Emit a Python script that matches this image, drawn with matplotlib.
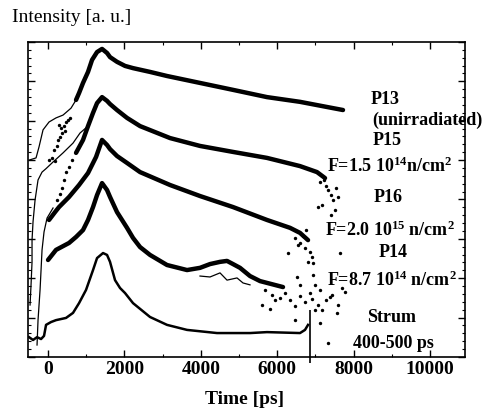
import numpy as np
import matplotlib
matplotlib.use('Agg')
import matplotlib.pyplot as plt
from matplotlib.ticker import MultipleLocator

plt.rcParams['font.family'] = ['Liberation Serif', 'DejaVu Serif']
plt.rcParams['mathtext.fontset'] = 'custom'
plt.rcParams['mathtext.rm'] = 'Liberation Serif:bold'
plt.rcParams['mathtext.it'] = 'Liberation Serif:bold'
plt.rcParams['mathtext.bf'] = 'Liberation Serif:bold'

# --- P13 (unirradiated) ---
p13_t = [733, 812, 916, 1047, 1152, 1283, 1414, 1545, 1623, 1806, 2016, 2225,
         2670, 3115, 3979, 4843, 5733, 6597, 7461, 7723]
p13_i = [8.16, 8.38, 8.70, 9.05, 9.43, 9.68, 9.78, 9.65, 9.52, 9.37, 9.24, 9.17,
         9.05, 8.92, 8.70, 8.48, 8.25, 8.10, 7.90, 7.84]
p13_pre_t = [26, 105, 183, 157, 236, 262, 314, 367, 340, 419, 471, 524, 576, 445, 288]
p13_pre_i = [6.25, 6.32, 6.22, 6.57, 6.70, 6.89, 6.98, 7.11, 7.27, 7.33, 7.46, 7.52,
             7.59, 7.17, 7.37]
p13_line_t = [-497, -314, -236, -131, 26, 209, 393, 602, 733]
p13_line_i = [6.25, 6.32, 6.67, 7.21, 7.46, 7.59, 7.68, 7.90, 8.16]

# --- P15 ---
p15_t = [733, 916, 1047, 1178, 1283, 1414, 1545, 1623, 1806, 2068, 2409, 3194,
         3979, 4843, 5733, 6597, 7042, 7252]
p15_i = [6.48, 6.89, 7.33, 7.75, 8.06, 8.25, 8.13, 8.03, 7.84, 7.59, 7.33, 6.95,
         6.70, 6.51, 6.32, 6.06, 5.87, 5.68]
p15_pts_t = [236, 314, 367, 419, 471, 550, 628, 7121, 7278, 7330, 7409, 7461, 7173,
             7540, 7514, 7409, 7069, 7592, 7226]
p15_pts_i = [4.98, 5.17, 5.37, 5.62, 5.87, 6.03, 6.25, 5.56, 5.43, 5.30, 5.14, 4.98,
             4.83, 5.37, 4.67, 4.51, 4.76, 5.08, 5.62]
p15_line_t = [-471, -445, -419, -419, -393, -340, -262, -157, -52, 131, 393, 654, 838, 1047]
p15_line_i = [1.65, 2.29, 3.02, 3.71, 4.29, 4.98, 5.62, 5.87, 5.98, 6.19, 6.48, 6.79, 7.11, 7.33]

# --- P16 ---
p16_t = [26, 183, 288, 550, 812, 1047, 1257, 1414, 1545, 1623, 1806, 2068, 2409,
         3194, 3979, 4843, 5733, 6336, 6597, 6807]
p16_i = [4.35, 4.60, 4.76, 5.08, 5.46, 5.84, 6.35, 6.89, 6.73, 6.60, 6.38, 6.16, 5.87,
         5.46, 5.11, 4.76, 4.35, 4.10, 3.94, 3.71]
p16_pts_t = [6466, 6597, 6728, 6859, 6912, 6676, 6545, 6807, 6938, 7645, 6283, 6754]
p16_pts_i = [3.78, 3.62, 3.46, 3.33, 3.17, 3.84, 3.56, 3.02, 2.98, 3.30, 3.30, 4.03]
p16_line_t = [-288, -262, -209, -183, -157, -105, -26, 131]
p16_line_i = [0.38, 1.17, 2.13, 2.76, 3.40, 3.97, 4.41, 4.73]

# --- P14 ---
p14_t = [0, 209, 550, 733, 916, 1047, 1178, 1283, 1414, 1545, 1623, 1806, 2068, 2225,
         2409, 2670, 3115, 3639, 3979, 4241, 4503, 4686, 4843, 5027, 5288, 5550, 6152]
p14_i = [3.08, 3.40, 3.62, 3.81, 4.03, 4.35, 4.76, 5.14, 5.52, 5.30, 5.08, 4.60, 4.10, 3.78,
         3.49, 3.24, 2.92, 2.76, 2.83, 2.95, 3.02, 3.05, 2.95, 2.83, 2.57, 2.41, 2.22]
p14_pts_t = [5681, 5864, 6074, 6336, 6466, 6597, 6728, 6912, 7069, 7173, 7278, 7435, 7592,
             7697, 7566, 7775, 6990, 6597, 6519, 6938, 7383, 6859, 7121, 6205, 5943, 5603, 5812]
p14_pts_i = [2.13, 1.97, 1.87, 1.81, 1.62, 1.94, 1.75, 1.84, 1.65, 1.49, 1.81, 1.97, 1.65,
             2.19, 1.40, 2.06, 2.29, 2.29, 2.54, 2.60, 1.90, 2.03, 2.13, 2.03, 1.81, 1.65, 1.52]
p14_line_t = [3979, 4241, 4503, 4686, 4948, 5105, 5288]
p14_line_i = [2.57, 2.54, 2.67, 2.44, 2.51, 2.35, 2.29]

# --- Strum 400-500 ps ---
strum_t = [-497, -393, -288, -183, -105, -52, 79, 209, 471, 654, 812, 995, 1178, 1283,
           1440, 1545, 1623, 1754, 1885, 2016, 2225, 2670, 3115, 3639, 4424, 5288, 5733,
           6597, 6728, 6807]
strum_i = [0.63, 0.54, 0.63, 0.57, 0.67, 1.02, 1.11, 1.17, 1.24, 1.40, 1.71, 2.13, 2.76, 3.14,
           3.30, 3.24, 3.02, 2.44, 2.19, 2.03, 1.71, 1.27, 1.02, 0.86, 0.76, 0.76, 0.79,
           0.76, 0.86, 1.02]
strum_pts_t = [6466, 7121, 7330, 6990]
strum_pts_i = [1.17, 1.08, 0.44, 1.49]
cut_t = 6859
cut_top = 1.49

fig = plt.figure(figsize=(4.96, 4.12), dpi=100)
ax = fig.add_axes([0.0565, 0.1335, 0.881, 0.7646])

band = dict(color='black', lw=3.2, solid_capstyle='round', solid_joinstyle='round')
thin = dict(color='black', lw=0.9)
dots = dict(color='black', s=6, marker='o', linewidths=0)

ax.plot(p13_t, p13_i, **band)
ax.scatter(p13_pre_t, p13_pre_i, **dots)
ax.plot(p13_line_t, p13_line_i, **thin)

ax.plot(p15_t, p15_i, **band)
ax.scatter(p15_pts_t, p15_pts_i, **dots)
ax.plot(p15_line_t, p15_line_i, **thin)

ax.plot(p16_t, p16_i, **band)
ax.scatter(p16_pts_t, p16_pts_i, **dots)
ax.plot(p16_line_t, p16_line_i, **thin)

ax.plot(p14_t, p14_i, **band)
ax.scatter(p14_pts_t, p14_pts_i, **dots)
ax.plot(p14_line_t, p14_line_i, **thin)

ax.plot(strum_t, strum_i, color='black', lw=1.8)
ax.scatter(strum_pts_t, strum_pts_i, **dots)
ax.vlines(cut_t, -0.19, cut_top, color='black', lw=1.2, clip_on=False)

ax.set_xlim(-524, 10917)
ax.set_ylim(0, 10)
ax.xaxis.set_major_locator(MultipleLocator(2000))
ax.xaxis.set_minor_locator(MultipleLocator(1000))
ax.yaxis.set_major_locator(MultipleLocator(1.25))
ax.yaxis.set_minor_locator(MultipleLocator(0.25))
ax.tick_params(which='both', direction='in', top=True, right=True)
ax.tick_params(which='major', length=5, width=1)
ax.tick_params(which='minor', length=2.5, width=0.8)
ax.tick_params(axis='x', labelsize=14, pad=3)
ax.set_yticklabels([])
for lab in ax.get_xticklabels():
    lab.set_fontweight('bold')
for s in ax.spines.values():
    s.set_linewidth(1.2)

fs = 14
ls = 13
kw = dict(fontsize=ls, fontweight='bold', ha='center', va='center')
ax.text(8823, 8.18, 'P13', **kw)
ax.text(8482, 7.52, '(unirradiated)', fontsize=ls, fontweight='bold', ha='left', va='center')
ax.text(8875, 6.86, 'P15', **kw)
ax.text(8954, 6.04, r'F=1.5 10$^{14}$n/cm$^{2}$', **kw)
ax.text(8901, 5.05, 'P16', **kw)
ax.text(8954, 4.03, r'F=2.0 10$^{15}$ n/cm$^{2}$', **kw)
ax.text(9032, 3.33, 'P14', **kw)
ax.text(9006, 2.44, r'F=8.7 10$^{14}$ n/cm$^{2}$', **kw)
ax.text(9006, 1.24, 'Strum', **kw)
ax.text(9032, 0.44, '400-500 ps', **kw)

fig.text(12 / 496, 1 - 18 / 412, 'Intensity [a. u.]', fontsize=fs, ha='left', va='center')
fig.text(245 / 496, 1 - 400 / 412, 'Time [ps]', fontsize=fs, fontweight='bold',
         ha='center', va='center')

fig.savefig('out.png', dpi=100)
